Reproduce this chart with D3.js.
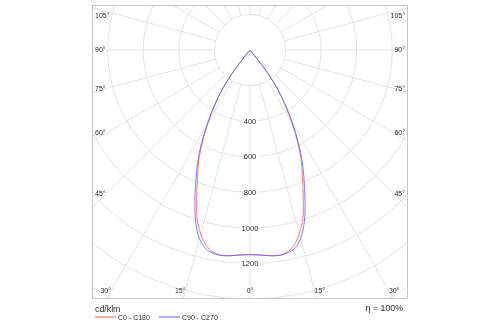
<!DOCTYPE html>
<html>
<head>
<meta charset="utf-8">
<script src="https://cdn.jsdelivr.net/npm/d3@7"></script>
<style>
  html, body { margin: 0; padding: 0; background: #fff; }
  svg { display: block; }
  text { font-family: "Liberation Sans", Arial, sans-serif; fill: #262626; }
  .labels { opacity: 0.995; will-change: opacity; }
</style>
</head>
<body>
<svg id="chart" width="500" height="325"></svg>
<script>
// Polar angles (degrees from nadir) and luminous intensity in cd/klm
const angles = [0, 2.5, 5, 7.5, 10, 12.5, 15, 17.5, 20, 22.5, 25, 27.5, 30, 32.5, 35, 37.5, 40, 42.5];
const c0c180 = [1150, 1153, 1160, 1165, 1158, 1128, 1070, 990, 875, 770, 680, 575, 470, 370, 275, 160, 8, 0];
const c90c270 = [1150, 1153, 1160, 1166, 1162, 1145, 1098, 1015, 905, 795, 695, 590, 480, 378, 280, 165, 10, 0];

const ringValues = [200, 400, 600, 800, 1000, 1200, 1400, 1600, 1800];
const ringLabels = [400, 600, 800, 1000, 1200];
const angleTicks = [0, 15, 30, 45, 60, 75, 90, 105];
const seriesNames = ["C0 - C180", "C90 - C270"];
const seriesColors = ["#f25c5c", "#5e5ef2"];
const unitLabel = "cd/klm";
const efficiencyLabel = "\u03b7 = 100%";

const svg = d3.select("#chart");
const frame = { x0: 92.5, y0: 5.5, x1: 407.5, y1: 298.5 };
const cx = 250, cy = 50;
const r = d3.scaleLinear().domain([0, 1200]).range([0, 213.5]);
const rad = d => d * Math.PI / 180;

svg.append("defs").append("clipPath").attr("id", "plotClip")
  .append("rect")
  .attr("x", frame.x0).attr("y", frame.y0)
  .attr("width", frame.x1 - frame.x0).attr("height", frame.y1 - frame.y0);

const grid = svg.append("g").attr("clip-path", "url(#plotClip)");

// concentric intensity rings
grid.selectAll("circle.ring").data(ringValues).join("circle")
  .attr("class", "ring")
  .attr("cx", cx).attr("cy", cy).attr("r", d => r(d))
  .attr("fill", "none").attr("stroke", "#e2e2e2").attr("stroke-width", 1);

// radial spokes every 15 degrees, starting from the first ring
const spokes = d3.range(0, 360, 15);
grid.selectAll("line.spoke").data(spokes).join("line")
  .attr("class", "spoke")
  .attr("x1", d => cx + r(200) * Math.sin(rad(d)))
  .attr("y1", d => cy + r(200) * Math.cos(rad(d)))
  .attr("x2", d => cx + r(2400) * Math.sin(rad(d)))
  .attr("y2", d => cy + r(2400) * Math.cos(rad(d)))
  .attr("stroke", "#e2e2e2").attr("stroke-width", 1);

// intensity labels along the nadir axis
const ringLabelG = svg.append("g").attr("class", "labels");
ringLabels.forEach(v => {
  const g = ringLabelG.append("g");
  const t = g.append("text")
    .attr("x", cx).attr("y", cy + r(v)).attr("dy", "0.35em")
    .attr("text-anchor", "middle").attr("font-size", 7.6)
    .text(v);
  const b = t.node().getBBox();
  g.insert("rect", "text")
    .attr("x", b.x - 1.5).attr("y", b.y + 0.5)
    .attr("width", b.width + 3).attr("height", b.height - 1)
    .attr("fill", "#fff");
});

// intensity curves
const curve = d3.lineRadial()
  .angle(d => Math.PI - rad(d.a))
  .radius(d => r(d.v))
  .curve(d3.curveCatmullRom.alpha(0.5));

function fullCurve(values) {
  const pts = angles.map((a, i) => ({ a: a, v: values[i] }));
  const left = pts.slice(1).reverse().map(p => ({ a: -p.a, v: p.v }));
  return left.concat(pts);
}

const curvesG = svg.append("g").attr("transform", `translate(${cx},${cy})`);
[c0c180, c90c270].forEach((vals, i) => {
  curvesG.append("path")
    .attr("d", curve(fullCurve(vals)))
    .attr("fill", "none")
    .attr("stroke", seriesColors[i])
    .attr("stroke-opacity", 0.8)
    .attr("stroke-width", 1);
});

// angle labels placed where each spoke leaves the plot area
const angleG = svg.append("g").attr("class", "labels");
const bottomY = 290.7, sideDx = 148;
angleTicks.forEach(a => {
  const sides = a === 0 ? [0] : [-1, 1];
  sides.forEach(s => {
    const dx = Math.sin(rad(a)), dy = Math.cos(rad(a));
    let x, y, anchor;
    const bx = dy > 0 ? (bottomY - cy) / dy * dx : Infinity;
    if (s === 0) {
      x = cx; y = bottomY; anchor = "middle";
    } else if (Math.abs(bx) < sideDx) {
      x = cx + s * bx; y = bottomY; anchor = s < 0 ? "end" : "start";
    } else {
      const slope = dy / dx;
      y = Math.max(15.5, cy + sideDx * slope - 4 * slope - 0.5);
      x = s < 0 ? frame.x0 + 2.5 : frame.x1 - 2.5;
      anchor = s < 0 ? "start" : "end";
    }
    angleG.append("text")
      .attr("x", x).attr("y", y).attr("dy", "0.35em")
      .attr("text-anchor", anchor).attr("font-size", 7)
      .text(a + "\u00b0");
  });
});

// plot frame
svg.append("rect")
  .attr("x", frame.x0).attr("y", frame.y0)
  .attr("width", frame.x1 - frame.x0).attr("height", frame.y1 - frame.y0)
  .attr("fill", "none").attr("stroke", "#c6c6c6").attr("stroke-width", 1);

// legend swatches
const legendX = [95, 159];
svg.append("g").selectAll("line").data(seriesNames).join("line")
  .attr("x1", (d, i) => legendX[i]).attr("x2", (d, i) => legendX[i] + 21)
  .attr("y1", 317).attr("y2", 317)
  .attr("stroke", (d, i) => seriesColors[i]).attr("stroke-width", 1);

// unit, efficiency and legend names
const footer = svg.append("g").attr("class", "labels");
footer.append("text").attr("x", 95).attr("y", 311.5)
  .attr("font-size", 8.8).text(unitLabel);
footer.append("text").attr("x", 403).attr("y", 311)
  .attr("text-anchor", "end").attr("font-size", 8.8).text(efficiencyLabel);
seriesNames.forEach((name, i) => {
  footer.append("text")
    .attr("x", legendX[i] + 23).attr("y", 320)
    .attr("font-size", 7).text(name);
});
</script>
</body>
</html>
